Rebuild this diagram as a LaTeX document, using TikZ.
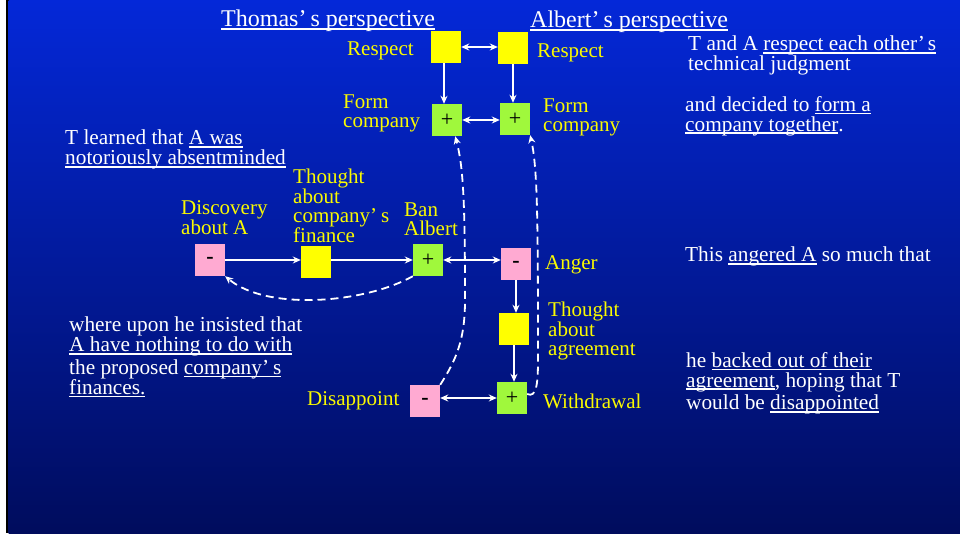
\documentclass[tikz,border=0pt]{standalone}
\usepackage{fontspec}
\setmainfont{Liberation Serif}
\usetikzlibrary{arrows.meta,calc}

\definecolor{bgtop}{RGB}{4,40,216}
\definecolor{bgbot}{RGB}{0,12,93}
\definecolor{boxyel}{RGB}{255,255,0}
\definecolor{boxgrn}{RGB}{160,248,60}
\definecolor{boxpnk}{RGB}{255,170,210}
\definecolor{lblyel}{RGB}{250,250,0}

% underline at a fixed depth below the baseline
\newcommand\undl[1]{\setbox0\hbox{#1}\rlap{\rule[-2.8pt]{\wd0}{1.4pt}}\box0\relax}
% signs printed inside the state boxes
\newcommand\plussign{\raisebox{-2.5pt}{+}}
\newcommand\minussign{\raisebox{-3pt}{\bfseries -}}

\begin{document}
\begin{tikzpicture}[x=1pt,y=-1pt,
  cellbox/.style={rectangle, minimum width=30pt, minimum height=32pt, inner sep=0pt,
    font=\fontsize{22}{22}\selectfont, text=black},
  flatbox/.style={cellbox, fill=boxyel},
  plusbox/.style={cellbox, fill=boxgrn},
  minusbox/.style={cellbox, fill=boxpnk},
  lbl/.style={anchor=north west, inner sep=0pt, text=lblyel, align=left,
    font=\fontsize{21}{18.3}\selectfont},
  note/.style={anchor=north west, inner sep=0pt, text=white, align=left,
    font=\fontsize{21.3}{19.8}\selectfont},
  titletext/.style={anchor=north west, inner sep=0pt, text=white,
    font=\fontsize{24}{26}\selectfont},
  link/.style={draw=white, line width=1.6pt, -{Stealth[length=8pt,width=7pt]}},
  twoway/.style={link, {Stealth[length=8pt,width=7pt]}-{Stealth[length=8pt,width=7pt]}},
  influence/.style={draw=white, line width=1.8pt, dash pattern=on 8pt off 5pt,
    -{Stealth[length=8pt,width=7pt]}},
]
% background with the white/black strip on the left
\useasboundingbox (0,0) rectangle (960,533);
\fill[white] (0,0) rectangle (6,533);
\fill[black] (6,0) rectangle (8.5,533);
\shade[top color=bgtop, bottom color=bgbot] (8.5,0) rectangle (960,533);

% headings
\node[titletext] (ttl1) at (221,10) {\undl{Thomas’\kern4pt s perspective}};
\node[titletext] (ttl2) at (530,11) {\undl{Albert’\kern4pt s perspective}};

% state boxes
\node[flatbox] (tr) at (446,47) {};
\node[flatbox] (ar) at (513,48) {};
\node[plusbox] (tf) at (447,120) {\plussign};
\node[plusbox] (af) at (515,119) {\plussign};
\node[minusbox] (disc) at (210,260) {\minussign};
\node[flatbox] (fin) at (316,262) {};
\node[plusbox] (ban) at (428,260) {\plussign};
\node[minusbox] (ang) at (516,264) {\minussign};
\node[flatbox] (agr) at (514,329) {};
\node[plusbox] (wd) at (512,398) {\plussign};
\node[minusbox] (dis) at (425,401) {\minussign};

% box labels
\node[lbl] (l1) at (347,42) {Respect};
\node[lbl] (l2) at (537,44) {Respect};
\node[lbl] (l3) at (343,95) {Form\\company};
\node[lbl] (l4) at (543,99) {Form\\company};
\node[lbl] (l5) at (181,200) {Discovery\\about A};
\node[lbl] (l6) at (293,169) {Thought\\about\\company’\kern4pt s\\finance};
\node[lbl] (l7) at (404,203) {Ban\\Albert};
\node[lbl] (l8) at (545,255) {Anger};
\node[lbl] (l9) at (548,302) {Thought\\about\\agreement};
\node[lbl] (l10) at (543,394) {Withdrawal};
\node[lbl] (l11) at (307,391) {Disappoint};

% narrative
\node[note] (n1) at (688,36) {T and A \undl{respect each other’\kern3pt s}\\technical judgment};
\node[note] (n2) at (685,96) {and decided to \undl{form a}\\\undl{company together}.};
\node[note] (n3) at (685,247) {This \undl{angered A} so much that};
\node[note] (n4) at (686,352) {he \undl{backed out of their}\\\undl{agreement}, hoping that T\\[3pt]would be \undl{disappointed}};
\node[note] (n5) at (65,130) {T learned that \undl{A was}\\\undl{notoriously absentminded}};
\node[note] (n6) at (69,317) {where upon he insisted that\\\undl{A have nothing to do with}\\[3pt]the proposed \undl{company’\kern4pt s}\\\undl{finances.}};

% solid links
\draw[twoway] (tr.east) -- (tr.east -| ar.west);
\draw[link] ([xshift=-2pt]tr.south) -- ([xshift=-2pt]tr.south |- tf.north);
\draw[link] (ar.south) -- (ar.south |- af.north);
\draw[twoway] (tf.east) -- (tf.east -| af.west);
\draw[link] (disc.east) -- (disc.east -| fin.west);
\draw[link] ([yshift=2pt]fin.east) -- ([yshift=2pt]fin.east -| ban.west);
\draw[twoway] (ban.east) -- (ban.east -| ang.west);
\draw[link] (ang.south) -- (ang.south |- agr.north);
\draw[link] (agr.south) -- (agr.south |- wd.north);
\draw[twoway] (dis.east |- wd.west) -- (wd.west);

% dashed influences
\draw[influence] (ban.south west) .. controls +(-48,27) and +(42,35) .. (disc.south east);
\coordinate (bendA) at (465,300);
\draw[influence] (dis.north east) .. controls +(16,-25) and +(0,40) .. (bendA)
  .. controls +(0,-100) and +(8,30) .. ([xshift=-7pt]tf.south east);
\coordinate (bendB) at (538,360);
\draw[influence] ([yshift=4pt]wd.east) .. controls +(9,4) and +(0,25) .. (bendB)
  .. controls +(0,-150) and +(7,32) .. (af.south east);
\end{tikzpicture}
\end{document}
